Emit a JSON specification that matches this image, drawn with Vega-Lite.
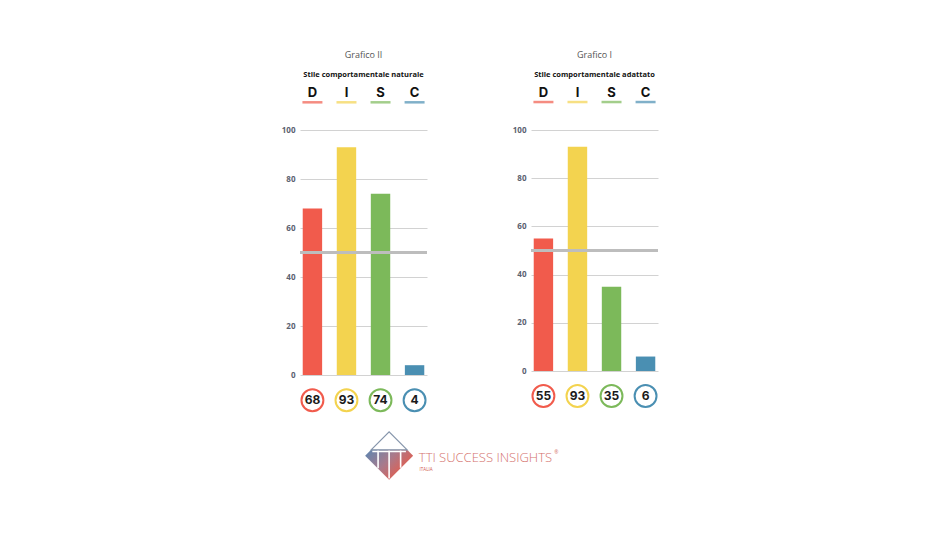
{
  "$schema": "https://vega.github.io/schema/vega-lite/v6.json",
  "background": "white",
  "padding": {"left": 281, "top": 50, "right": 5, "bottom": 5},
  "config": {"view": {"stroke": null}},
  "datasets": {
    "naturale": [
      {"factor": "D", "value": 68},
      {"factor": "I", "value": 93},
      {"factor": "S", "value": 74},
      {"factor": "C", "value": 4}
    ],
    "adattato": [
      {"factor": "D", "value": 55},
      {"factor": "I", "value": 93},
      {"factor": "S", "value": 35},
      {"factor": "C", "value": 6}
    ]
  },
  "vconcat": [
    {
      "hconcat": [
        {
          "width": 127,
          "height": 245,
          "data": {"name": "naturale"},
          "title": {"text": "Grafico II", "subtitle": "Stile comportamentale naturale", "anchor": "middle", "font": "Open Sans", "fontSize": 9, "fontWeight": "normal", "color": "#555555", "subtitleFont": "Open Sans", "subtitleFontSize": 7.5, "subtitleFontWeight": "bold", "subtitleColor": "#111111", "subtitlePadding": 11, "offset": 9},
          "layer": [
            {
              "mark": {"type": "bar"},
              "encoding": {
                "x": {"field": "factor", "type": "nominal", "sort": ["D", "I", "S", "C"], "axis": null, "scale": {"paddingInner": 0.43, "paddingOuter": 0.08}},
                "y": {"field": "value", "type": "quantitative", "scale": {"domain": [0, 100], "nice": false}, "axis": {"title": null, "values": [0, 10, 20, 30, 40, 50, 60, 70, 80, 90, 100], "labelExpr": "datum.value % 20 == 0 ? datum.label : ''", "grid": true, "gridColor": "#d2d2d2", "domain": false, "ticks": false, "labelPadding": 5, "labelFontSize": 8, "labelFontWeight": "bold", "labelColor": "#5a6270", "labelFont": "Open Sans"}},
                "color": {"field": "factor", "type": "nominal", "scale": {"domain": ["D", "I", "S", "C"], "range": ["#f15b4c", "#f3d34f", "#7cb95a", "#4a8fb2"]}, "legend": null}
              }
            },
            {
              "mark": {"type": "rule", "color": "#bdbdbd", "strokeWidth": 3},
              "encoding": {"y": {"datum": 50}}
            },
            {
              "mark": {"type": "text", "font": "Inter", "fontSize": 13, "fontWeight": "bold", "color": "#111111"},
              "encoding": {
                "x": {"field": "factor", "type": "nominal", "sort": ["D", "I", "S", "C"]},
                "y": {"datum": 115},
                "text": {"field": "factor"}
              }
            },
            {
              "mark": {"type": "tick", "size": 20, "thickness": 2.5, "orient": "horizontal"},
              "encoding": {
                "x": {"field": "factor", "type": "nominal", "sort": ["D", "I", "S", "C"]},
                "y": {"datum": 111.3},
                "color": {"field": "factor", "type": "nominal"}
              }
            },
            {
              "mark": {"type": "point", "shape": "circle", "filled": false, "size": 480, "strokeWidth": 2, "opacity": 1},
              "encoding": {
                "x": {"field": "factor", "type": "nominal", "sort": ["D", "I", "S", "C"]},
                "y": {"datum": -10.3},
                "color": {"field": "factor", "type": "nominal"}
              }
            },
            {
              "mark": {"type": "text", "font": "Inter", "fontSize": 12, "fontWeight": "bold", "color": "#1a1a1a"},
              "encoding": {
                "x": {"field": "factor", "type": "nominal", "sort": ["D", "I", "S", "C"]},
                "y": {"datum": -10.3},
                "text": {"field": "value"}
              }
            }
          ]
        },
        {
          "width": 127,
          "height": 241,
          "data": {"name": "adattato"},
          "title": {"text": "Grafico I", "subtitle": "Stile comportamentale adattato", "anchor": "middle", "font": "Open Sans", "fontSize": 9, "fontWeight": "normal", "color": "#555555", "subtitleFont": "Open Sans", "subtitleFontSize": 7.5, "subtitleFontWeight": "bold", "subtitleColor": "#111111", "subtitlePadding": 11, "offset": 9},
          "layer": [
            {
              "mark": {"type": "bar"},
              "encoding": {
                "x": {"field": "factor", "type": "nominal", "sort": ["D", "I", "S", "C"], "axis": null, "scale": {"paddingInner": 0.43, "paddingOuter": 0.08}},
                "y": {"field": "value", "type": "quantitative", "scale": {"domain": [0, 100], "nice": false}, "axis": {"title": null, "values": [0, 10, 20, 30, 40, 50, 60, 70, 80, 90, 100], "labelExpr": "datum.value % 20 == 0 ? datum.label : ''", "grid": true, "gridColor": "#d2d2d2", "domain": false, "ticks": false, "labelPadding": 5, "labelFontSize": 8, "labelFontWeight": "bold", "labelColor": "#5a6270", "labelFont": "Open Sans"}},
                "color": {"field": "factor", "type": "nominal", "scale": {"domain": ["D", "I", "S", "C"], "range": ["#f15b4c", "#f3d34f", "#7cb95a", "#4a8fb2"]}, "legend": null}
              }
            },
            {
              "mark": {"type": "rule", "color": "#bdbdbd", "strokeWidth": 3},
              "encoding": {"y": {"datum": 50}}
            },
            {
              "mark": {"type": "text", "font": "Inter", "fontSize": 13, "fontWeight": "bold", "color": "#111111"},
              "encoding": {
                "x": {"field": "factor", "type": "nominal", "sort": ["D", "I", "S", "C"]},
                "y": {"datum": 115.3},
                "text": {"field": "factor"}
              }
            },
            {
              "mark": {"type": "tick", "size": 20, "thickness": 2.5, "orient": "horizontal"},
              "encoding": {
                "x": {"field": "factor", "type": "nominal", "sort": ["D", "I", "S", "C"]},
                "y": {"datum": 111.6},
                "color": {"field": "factor", "type": "nominal"}
              }
            },
            {
              "mark": {"type": "point", "shape": "circle", "filled": false, "size": 480, "strokeWidth": 2, "opacity": 1},
              "encoding": {
                "x": {"field": "factor", "type": "nominal", "sort": ["D", "I", "S", "C"]},
                "y": {"datum": -10.4},
                "color": {"field": "factor", "type": "nominal"}
              }
            },
            {
              "mark": {"type": "text", "font": "Inter", "fontSize": 12, "fontWeight": "bold", "color": "#1a1a1a"},
              "encoding": {
                "x": {"field": "factor", "type": "nominal", "sort": ["D", "I", "S", "C"]},
                "y": {"datum": -10.4},
                "text": {"field": "value"}
              }
            }
          ]
        }
      ],
      "spacing": 82,
      "resolve": {"scale": {"color": "independent"}}
    },
    {
      "width": 376,
      "height": 60,
      "data": {"values": [{"logo": "TTI Success Insights Italia"}]},
      "layer": [
        {
          "mark": {"type": "point", "shape": "M-0.75,-0.25 L0.75,-0.25 L1,0 L0,1 L-1,0 Z", "size": 2304, "filled": true, "opacity": 1, "strokeWidth": 0, "fill": {"gradient": "linear", "x1": 0, "y1": 0, "x2": 1, "y2": 0.6, "stops": [{"offset": 0, "color": "#5b86b2"}, {"offset": 0.5, "color": "#a87a8c"}, {"offset": 1, "color": "#ee5843"}]}},
          "encoding": {
            "x": {"datum": 23.7, "type": "quantitative", "scale": {"domain": [0, 100]}, "axis": null},
            "y": {"datum": 5.2, "type": "quantitative", "scale": {"domain": [0, 10]}, "axis": null}
          }
        },
        {
          "mark": {"type": "point", "shape": "M-0.75,-0.25 L0,-1 L0.75,-0.25 Z", "size": 2304, "filled": false, "opacity": 1, "stroke": "#8595ab", "strokeWidth": 1.2},
          "encoding": {
            "x": {"datum": 23.7, "type": "quantitative"},
            "y": {"datum": 5.2, "type": "quantitative"}
          }
        },
        {
          "mark": {"type": "point", "shape": "M-0.46,-0.22 L-0.46,0.52 M0,-0.22 L0,0.95 M0.48,-0.22 L0.48,0.5 M-0.7,-0.18 L0.7,-0.18", "size": 2304, "filled": false, "opacity": 1, "stroke": "white", "strokeWidth": 1.6},
          "encoding": {
            "x": {"datum": 23.7, "type": "quantitative"},
            "y": {"datum": 5.2, "type": "quantitative"}
          }
        },
        {
          "mark": {"type": "text", "text": "TTI SUCCESS INSIGHTS", "align": "left", "baseline": "alphabetic", "font": "Open Sans", "fontSize": 13, "fontWeight": 300, "color": "#d4716c"},
          "encoding": {
            "x": {"datum": 31.6, "type": "quantitative"},
            "y": {"datum": 4.2, "type": "quantitative"}
          }
        },
        {
          "mark": {"type": "text", "text": "®", "align": "left", "baseline": "middle", "font": "Open Sans", "fontSize": 5, "color": "#d4716c"},
          "encoding": {
            "x": {"datum": 67.6, "type": "quantitative"},
            "y": {"datum": 5.9, "type": "quantitative"}
          }
        },
        {
          "mark": {"type": "text", "text": "ITALIA", "align": "left", "baseline": "middle", "font": "Open Sans", "fontSize": 4.5, "color": "#d05a50"},
          "encoding": {
            "x": {"datum": 31.8, "type": "quantitative"},
            "y": {"datum": 2.9, "type": "quantitative"}
          }
        }
      ]
    }
  ],
  "spacing": 11
}
